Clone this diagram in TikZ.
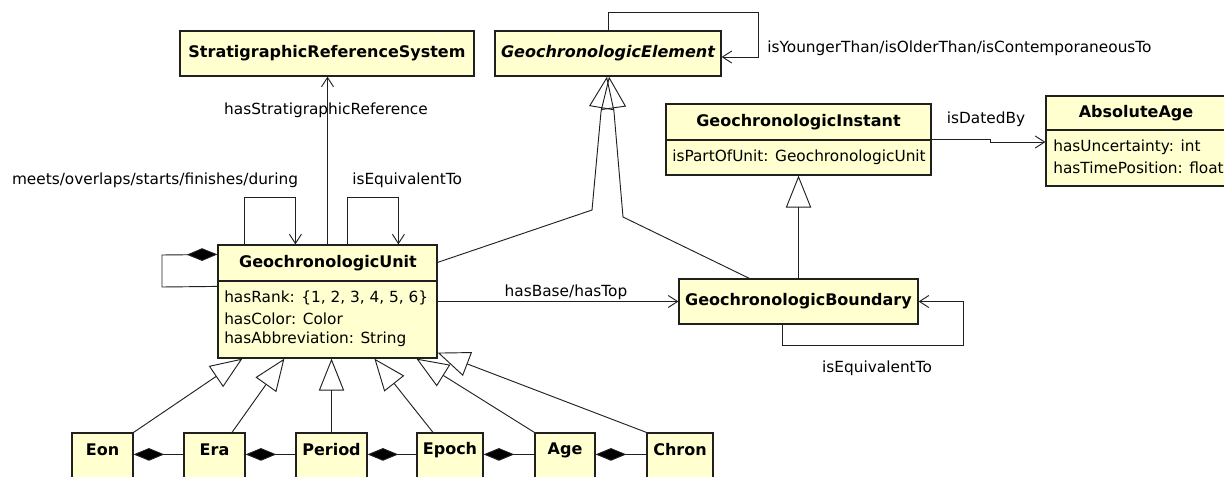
\documentclass[tikz,border=0pt]{standalone}
\usepackage{fontspec}
\setmainfont{DejaVu Sans}
\usetikzlibrary{arrows.meta,fit,calc}
\definecolor{boxfill}{HTML}{FFFFD0}
\definecolor{linec}{HTML}{202020}
\begin{document}
\begin{tikzpicture}[x=0.75pt,y=-0.75pt,
  cls/.style={draw=linec, fill=boxfill, line width=0.9pt, inner sep=0pt},
  hdr/.style={font=\fontsize{12}{14}\selectfont\bfseries, inner sep=0pt},
  attr/.style={font=\fontsize{11.5}{13.5}\selectfont, inner sep=0pt, anchor=west},
  lbl/.style={font=\fontsize{11.5}{13.5}\selectfont, inner sep=0pt},
  sepline/.style={draw=linec, line width=0.9pt},
  conn/.style={draw=linec, line width=0.7pt},
  assoc/.style={conn, -{Straight Barb[length=7pt,width=9pt,line width=0.7pt]}},
  gen/.style={conn, -{Triangle[open,length=24pt,width=19pt,line width=0.7pt]}},
  comp/.style={conn, {Diamond[length=23pt,width=9.5pt,fill=black]}-},
]
\useasboundingbox (0,0) rectangle (1224,476);
\clip (0,0) rectangle (1224,476);

% classes
\node[cls, fit={(180,31) (474,76)}] (srs) {};
\node[hdr] (srsT) at (srs.center) {StratigraphicReferenceSystem};

\node[cls, fit={(495,31) (721,76)}] (elem) {};
\node[hdr, font=\fontsize{12}{14}\selectfont\bfseries\itshape] (elemT) at (elem.center) {GeochronologicElement};

\node[cls, fit={(666,104) (931,175)}] (inst) {};
\draw[sepline] (inst.west |- 0,140) -- (inst.east |- 0,140);
\node[hdr] (instT) at (798.5,122) {GeochronologicInstant};
\node[attr] (instA) at (672,157) {isPartOfUnit: GeochronologicUnit};

\node[cls, fit={(1046,96) (1234,186)}] (absage) {};
\draw[sepline] (absage.west |- 0,130) -- (absage.east |- 0,130);
\node[hdr] (absT) at (1136,113) {AbsoluteAge};
\node[attr] (absA1) at (1053,147) {hasUncertainty: int};
\node[attr] (absA2) at (1053,168) {hasTimePosition: float};

\node[cls, fit={(218,245) (437,358)}] (unit) {};
\draw[sepline] (unit.west |- 0,281) -- (unit.east |- 0,281);
\node[hdr] (unitT) at (328,263) {GeochronologicUnit};
\node[attr] (unitA1) at (224,298) {hasRank: \{1, 2, 3, 4, 5, 6\}};
\node[attr] (unitA2) at (224,319) {hasColor: Color};
\node[attr] (unitA3) at (224,339) {hasAbbreviation: String};

\node[cls, fit={(679,279) (918,324)}] (bnd) {};
\node[hdr] (bndT) at (bnd.center) {GeochronologicBoundary};

\node[cls, fit={(72,433) (133,492)}] (eon) {};
\node[hdr] (eonT) at (102.5,450) {Eon};
\node[cls, fit={(184,433) (245,492)}] (era) {};
\node[hdr] (eraT) at (214.5,450) {Era};
\node[cls, fit={(296,433) (367,492)}] (period) {};
\node[hdr] (periodT) at (331.5,450) {Period};
\node[cls, fit={(417,433) (483,492)}] (epoch) {};
\node[hdr] (epochT) at (450,450) {Epoch};
\node[cls, fit={(535,433) (595,492)}] (ageb) {};
\node[hdr] (agebT) at (565,450) {Age};
\node[cls, fit={(647,433) (713,492)}] (chron) {};
\node[hdr] (chronT) at (680,450) {Chron};

% associations
\draw[assoc] (unit.north) -- (unit.north |- srs.south);
\node[lbl] (lSRS) at (326,110) {hasStratigraphicReference};

\draw[assoc] ($(unit.north west)+(27,0)$) |- ($(unit.north west)+(78,-47)$) -- ($(unit.north west)+(78,0)$);
\node[lbl] (lMeets) at (155,180) {meets/overlaps/starts/finishes/during};

\draw[assoc] ($(unit.north west)+(130,0)$) |- ($(unit.north west)+(181,-47)$) -- ($(unit.north west)+(181,0)$);
\node[lbl, anchor=west] (lEquiv1) at (352,180) {isEquivalentTo};

\draw[comp] ($(unit.north west)+(0,10)$) -- (162,255) -- (162,287) -- ($(unit.north west)+(0,42)$);

\draw[assoc] (elem.north) |- (758,12) |- (elem.east |- 0,57);
\node[lbl, anchor=west] (lYoung) at (767,48) {isYoungerThan/isOlderThan/isContemporaneousTo};

\draw[assoc] (inst.east) -- (990,139.5) -- (990,142) -- (absage.west |- 0,142);
\node[lbl] (lDated) at (986,119) {isDatedBy};

\draw[assoc] (unit.east |- bnd.west) -- (bnd.west);
\node[lbl] (lBase) at (566,292) {hasBase/hasTop};

\draw[assoc] ($(bnd.south west)+(104,0)$) |- (963,345) |- (bnd.east);
\node[lbl] (lEquiv2) at (877,368) {isEquivalentTo};

% generalizations
\draw[gen] ($(unit.north east)+(0,18)$) -- (592,210) -- (601,112) -- ($(elem.south)+(-1,0)$);
\draw[gen] ($(bnd.north west)+(71,0)$) -- (623,217) -- (614,112) -- ($(elem.south)+(1,0)$);
\draw[gen] (bnd.north) -- (inst.south);

\draw[gen] (eon.north east) -- ($(unit.south west)+(25,0)$);
\draw[gen] ($(era.north)+(17.5,0)$) -- ($(unit.south west)+(67,0)$);
\draw[gen] (period.north) -- (period.north |- unit.south);
\draw[gen] ($(epoch.north)+(-17,0)$) -- ($(unit.south west)+(157,0)$);
\draw[gen] (ageb.north west) -- ($(unit.south west)+(199,0)$);
\draw[gen] (chron.north west) -- ($(unit.south east)+(0,-6)$);

% compositions
\draw[comp] ($(eon.north east)+(0,22)$) -- ($(era.north west)+(0,22)$);
\draw[comp] ($(era.north east)+(0,22)$) -- ($(period.north west)+(0,22)$);
\draw[comp] ($(period.north east)+(0,22)$) -- ($(epoch.north west)+(0,22)$);
\draw[comp] ($(epoch.north east)+(0,22)$) -- ($(ageb.north west)+(0,22)$);
\draw[comp] ($(ageb.north east)+(0,22)$) -- ($(chron.north west)+(0,22)$);
\end{tikzpicture}
\end{document}
